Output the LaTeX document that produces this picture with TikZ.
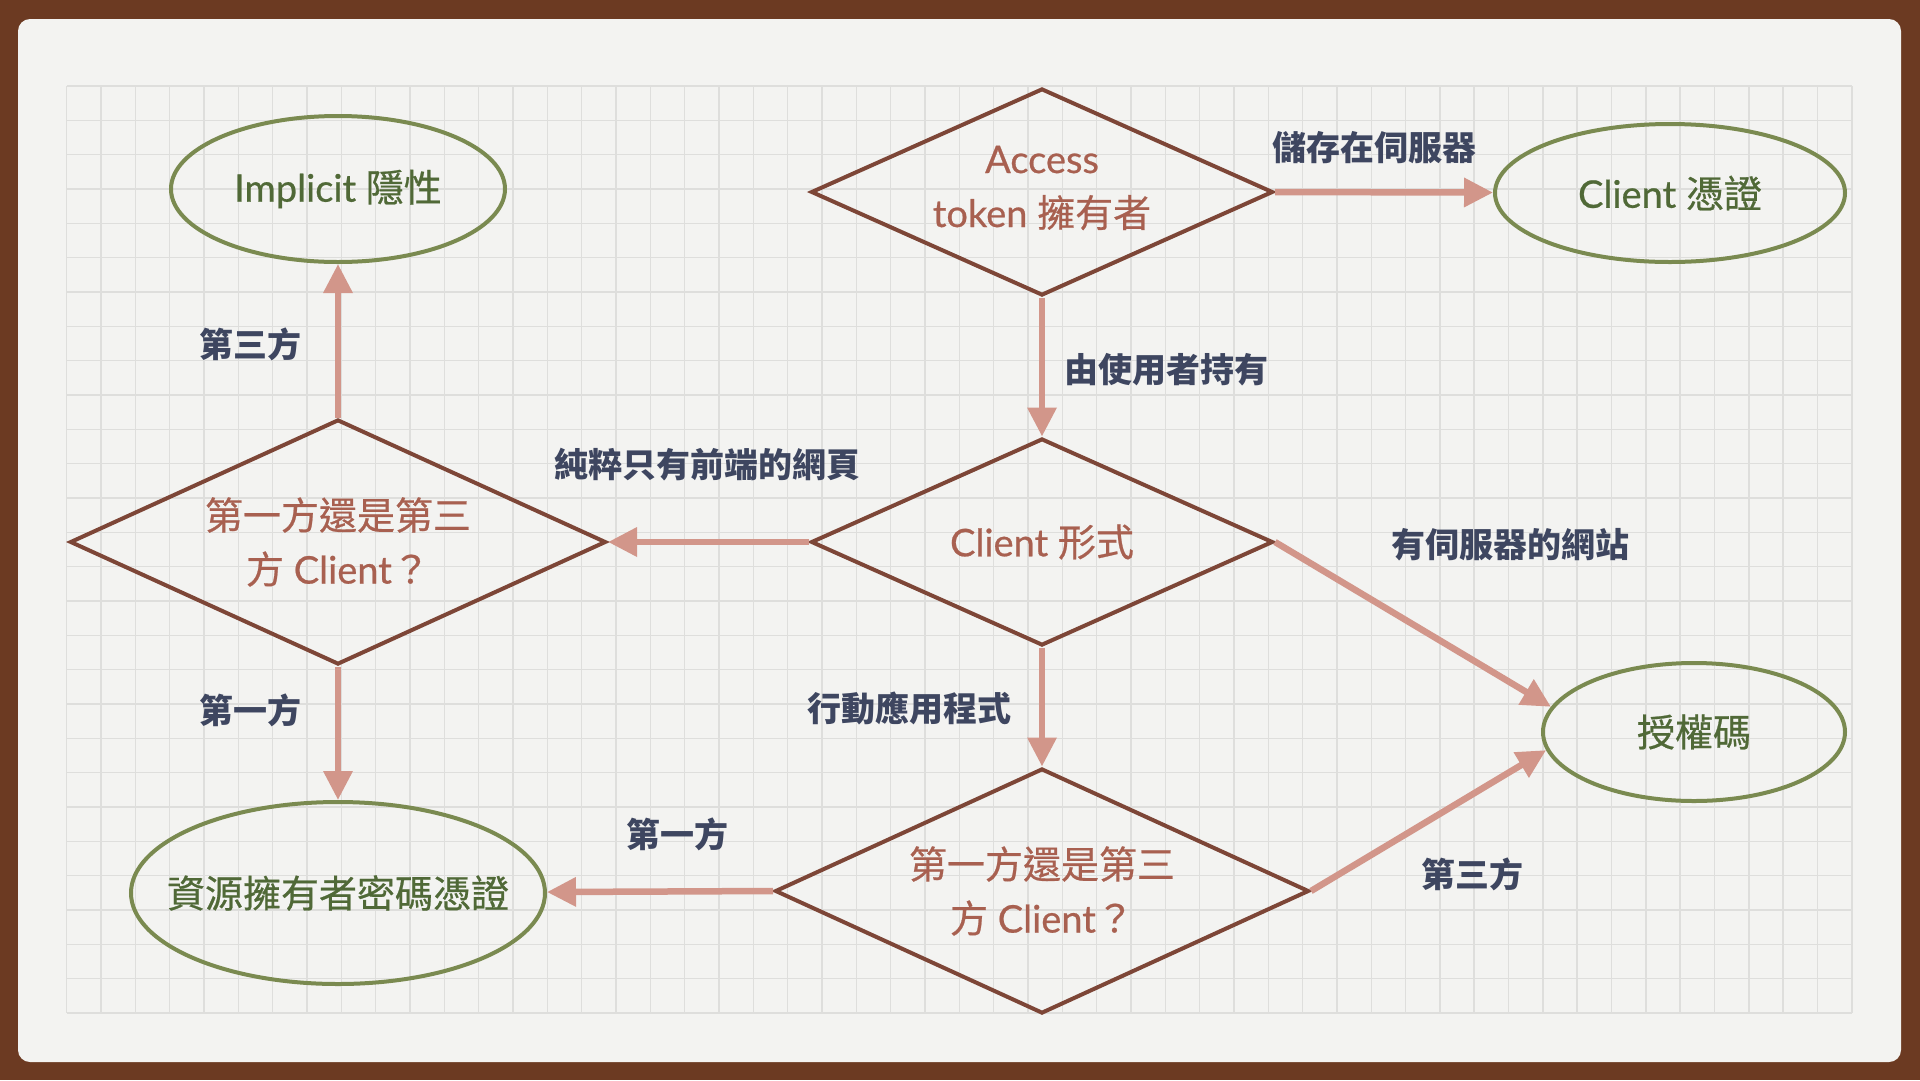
\documentclass[tikz,border=0pt]{standalone}
\usepackage{fontspec}
\setmainfont{Lato}[FakeBold=0.6]
\newfontfamily\cjk{Noto Sans CJK TC}
\newfontfamily\cjkmid{Noto Sans CJK TC}[FakeBold=0.6]
\usetikzlibrary{shapes.geometric,arrows.meta}

\definecolor{deskbrown}{RGB}{108,58,34}
\definecolor{paper}{RGB}{243,243,241}
\definecolor{gridgray}{RGB}{222,222,220}
\definecolor{diamondline}{RGB}{125,70,55}
\definecolor{diamondtext}{RGB}{168,96,80}
\definecolor{ellipseline}{RGB}{122,138,80}
\definecolor{ellipsetext}{RGB}{80,105,55}
\definecolor{arrowpink}{RGB}{210,150,138}
\definecolor{notetext}{RGB}{62,70,96}

\tikzset{
  decision/.style={diamond, draw=diamondline, line width=4pt, inner sep=0pt},
  dtext/.style={text=diamondtext, font=\fontsize{38}{54}\selectfont, align=center},
  outcome/.style={ellipse, draw=ellipseline, line width=4pt, inner sep=0pt},
  etext/.style={text=ellipsetext, font=\fontsize{38}{54}\selectfont},
  flow/.style={draw=arrowpink, line width=6.5pt, -{Triangle[length=29pt,width=28pt]}},
  note/.style={text=notetext, font=\cjk\bfseries\fontsize{34}{40}\selectfont},
}

\begin{document}
\begin{tikzpicture}[x=1pt, y=-1pt]
    % Paper and grid
    \useasboundingbox (0,0) rectangle (1920,1080);
    \fill[deskbrown] (0,0) rectangle (1920,1080);
    \fill[paper, rounded corners=12pt] (18,19) rectangle (1901,1062);
    \foreach \i in {0,...,52}
        \draw[gridgray, line width=1.5pt] (66.7+\i*34.33,86) -- (66.7+\i*34.33,1013);
    \foreach \j in {0,...,27}
        \draw[gridgray, line width=1.5pt] (66.7,86+\j*34.33) -- (1851.9,86+\j*34.33);

    % Decisions
    \node (access) at (1042,192) [decision, minimum width=462pt, minimum height=207pt,
        label={[dtext, yshift=4pt]center:{Access\\token {\cjkmid 擁有者}}}] {};
    \node (form) at (1042,542) [decision, minimum width=462pt, minimum height=207pt,
        label={[dtext]center:{Client {\cjkmid 形式}}}] {};
    \node (party) at (338,542) [decision, minimum width=536pt, minimum height=245pt,
        label={[dtext]center:{{\cjkmid 第一方還是第三}\\{\cjkmid 方} Client{\cjkmid ？}}}] {};
    \node (mobile) at (1042,891) [decision, minimum width=534pt, minimum height=245pt,
        label={[dtext]center:{{\cjkmid 第一方還是第三}\\{\cjkmid 方} Client{\cjkmid ？}}}] {};

    % Grant types
    \node (implicit) at (338,189) [outcome, minimum width=334pt, minimum height=146pt,
        label={[etext]center:{Implicit {\cjkmid 隱性}}}] {};
    \node (cred) at (1670,193) [outcome, minimum width=350pt, minimum height=138pt,
        label={[etext]center:{Client {\cjkmid 憑證}}}] {};
    \node (code) at (1694,732) [outcome, minimum width=302pt, minimum height=138pt,
        label={[etext]center:{\cjkmid 授權碼}}] {};
    \node (pwd) at (338,893) [outcome, minimum width=414pt, minimum height=182pt,
        label={[etext]center:{\cjkmid 資源擁有者密碼憑證}}] {};

    % Arrows
    \draw[flow] (access.south) -- (form.north);
    \draw[flow] (access.east) -- (cred);
    \draw[flow] (form.west) -- (party.east);
    \draw[flow] (form.east) -- (code.170);
    \draw[flow] (form.south) -- (mobile.north);
    \draw[flow] (mobile.west) -- (pwd);
    \draw[flow] (mobile.east) -- (code.187);
    \draw[flow] (party.north) -- (implicit);
    \draw[flow] (party.south) -- (pwd);

    % Arrow labels
    \node (store) at (1374,148) [note] {儲存在伺服器};
    \node (user) at (1061,370) [note, anchor=west] {由使用者持有};
    \node (spa) at (551,465) [note, anchor=west] {純粹只有前端的網頁};
    \node (site) at (1510,545) [note] {有伺服器的網站};
    \node (app) at (909,708) [note] {行動應用程式};
    \node (first1) at (677,834) [note] {第一方};
    \node (third1) at (1472,874) [note] {第三方};
    \node (third2) at (250,344) [note] {第三方};
    \node (first2) at (250,710) [note] {第一方};
\end{tikzpicture}
\end{document}
